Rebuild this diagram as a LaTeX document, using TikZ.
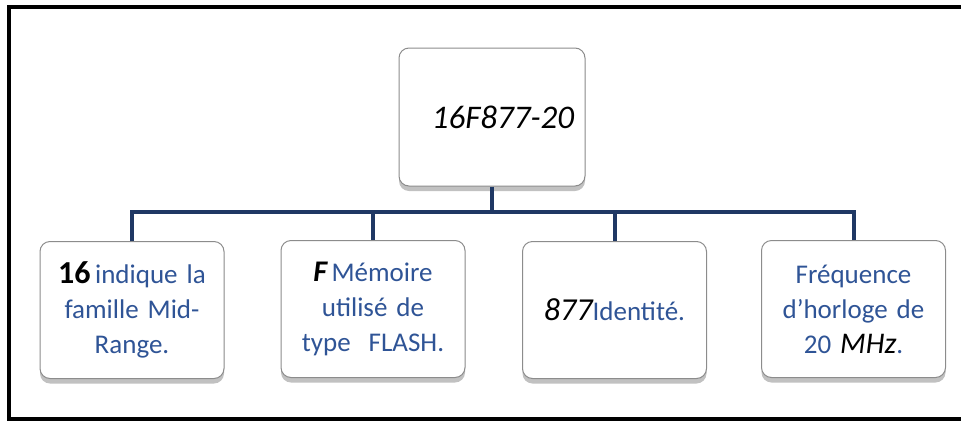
\documentclass[tikz,border=0pt]{standalone}
\usepackage{fontspec}
\setmainfont{Carlito}
\usetikzlibrary{shadows}
\definecolor{picblue}{RGB}{47,84,150}
\definecolor{picnavy}{RGB}{31,56,100}
\definecolor{boxedge}{RGB}{140,140,140}
\tikzset{
    picbox/.style = {draw = boxedge, line width = 1pt, fill = white, rounded corners = 10pt,
        minimum width = 184pt, minimum height = 137pt, align = center, text width = 176pt,
        text = picblue, font = \fontsize{27}{35}\selectfont,
        drop shadow = {shadow xshift = 0pt, shadow yshift = -5pt, opacity = 0.35, fill = black!70}},
    picline/.style = {draw = picnavy, line width = 4pt}
}
\begin{document}
\begin{tikzpicture}[x = 1pt, y = -1pt]
        \useasboundingbox (0, 0) rectangle (961, 421);
        % outer frame, open on the right
        \draw[line width = 4pt, black] (975, 7) -- (9, 7) -- (9, 419) -- (975, 419);
        % top box
        \node[picbox, minimum width = 186pt, minimum height = 138pt, text = black,
            font = \fontsize{33}{40}\selectfont\itshape] (chip) at (492, 117) {\hspace*{22pt}16F877-20};
        % children
        \node[picbox] (fam) at (132, 310) {{\color{black}\fontsize{32}{35}\selectfont\bfseries 16}\,indique la\\ famille Mid-\\ Range.};
        \node[picbox] (mem) at (373, 309) {{\color{black}\fontsize{30}{35}\selectfont\bfseries\itshape F}\,Mémoire\\ utilisé de\\ type~~FLASH.};
        \node[picbox] (ident) at (614.5, 310) {{\color{black}\fontsize{32}{35}\selectfont\itshape 877}Identité.};
        \node[picbox] (freq) at (853.5, 309) {Fréquence\\ d’horloge de\\ 20 {\color{black}\fontsize{30}{35}\selectfont\itshape MHz}.};
        % connectors
        \coordinate (bus) at (492, 212);
        \draw[picline] (chip.south) -- (bus);
        \foreach \kid in {fam, mem, ident, freq}{
            \draw[picline] (\kid.north) |- (bus);
        }
    \end{tikzpicture}
\end{document}
